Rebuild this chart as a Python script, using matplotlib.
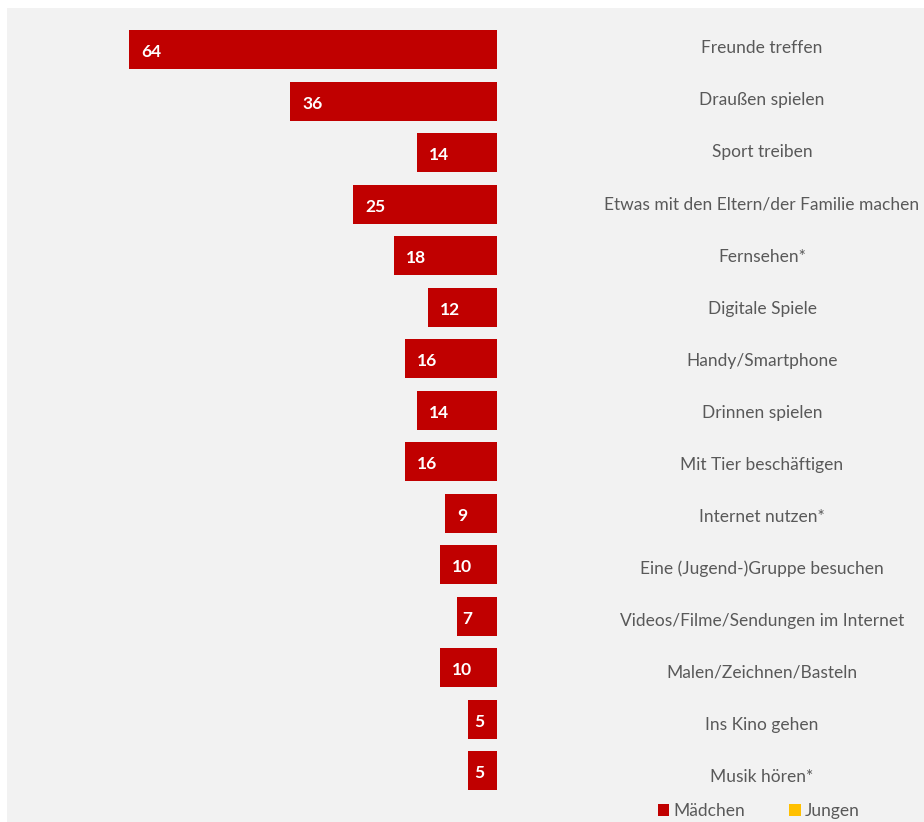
import matplotlib
matplotlib.use("Agg")
import matplotlib.pyplot as plt
from matplotlib.patches import Rectangle, Patch

categories = [
    "Freunde treffen",
    "Draußen spielen",
    "Sport treiben",
    "Etwas mit den Eltern/der Familie machen",
    "Fernsehen*",
    "Digitale Spiele",
    "Handy/Smartphone",
    "Drinnen spielen",
    "Mit Tier beschäftigen",
    "Internet nutzen*",
    "Eine (Jugend-)Gruppe besuchen",
    "Videos/Filme/Sendungen im Internet",
    "Malen/Zeichnen/Basteln",
    "Ins Kino gehen",
    "Musik hören*",
]
maedchen = [64, 36, 14, 25, 18, 12, 16, 14, 16, 9, 10, 7, 10, 5, 5]
series_names = ["Mädchen", "Jungen"]

RED = "#c00000"
YELLOW = "#ffc000"
BG = "#f2f2f2"
TXT = "#595959"
FONT = ["Lato", "DejaVu Sans"]

W, H = 924, 822
fig = plt.figure(figsize=(W / 100, H / 100), dpi=100)
fig.patch.set_facecolor("white")

# grey plot area
x0, y0 = 7, 8
fig.patches.append(Rectangle((x0 / W, 0), 1 - x0 / W, 1 - y0 / H,
                             transform=fig.transFigure, facecolor=BG,
                             edgecolor="none", zorder=-10))

ax = fig.add_axes([x0 / W, 0, 1 - x0 / W, 1 - y0 / H])
ax.set_facecolor("none")
ax.set_zorder(5)

px_per_unit = 5.75
zero_px = 497
ax.set_xlim((zero_px - x0) / px_per_unit, -(W - zero_px) / px_per_unit)
first_c, step = 49.7, 51.5
ax.set_ylim((H - first_c) / step, (y0 - first_c) / step)

ys = list(range(len(categories)))
ax.barh(ys, maedchen, height=0.763, color=RED, left=0, align="center")

label_x = -(762 - zero_px) / px_per_unit
label_step = 52.05
for y, v, c in zip(ys, maedchen, categories):
    pad = 12 if v * px_per_unit > 45 else 5.5
    ax.text(v - pad / px_per_unit, y + 7.7 / step, str(v), ha="left",
            va="baseline", color="white", fontsize=12.5, fontweight="bold",
            family=FONT)
    base_px = 53.3 + label_step * y
    ax.text(label_x, (base_px - first_c) / step, c, ha="center",
            va="baseline", color=TXT, fontsize=12.5, family=FONT)

ax.axis("off")

handles = [Patch(facecolor=RED), Patch(facecolor=YELLOW)]
fig.legend(handles, series_names, ncol=2, loc="center",
           bbox_to_anchor=(758.5 / W, 1 - 811 / H), frameon=False,
           handlelength=0.69, handleheight=0.69, handletextpad=0.23,
           columnspacing=2.5, prop={"family": FONT, "size": 12.5},
           labelcolor=TXT, borderpad=0)

fig.savefig("out.png", dpi=100, facecolor=fig.get_facecolor())
